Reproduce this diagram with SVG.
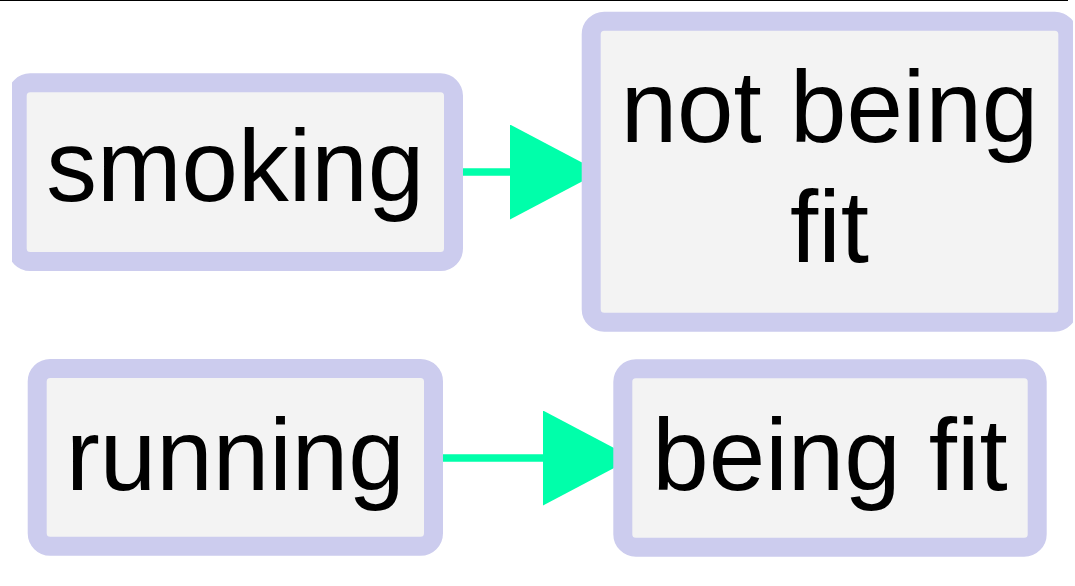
<svg xmlns="http://www.w3.org/2000/svg" width="1075" height="586" viewBox="0 0 1075 586">
<style>
.node rect{fill:#f3f3f3;stroke:#ccccee;stroke-width:19}
.node text{font-family:"Liberation Sans",Arial,sans-serif;font-size:101.5px;fill:#000;text-anchor:middle}
.edge{stroke:#00ffaa;stroke-width:7.5;fill:none}
</style>
<defs>
<marker id="arrow" markerUnits="userSpaceOnUse" markerWidth="90" markerHeight="95" refX="90" refY="47.5" orient="auto" viewBox="0 0 90 95">
<path d="M0,0 L90,47.5 L0,95 Z" fill="#00ffaa"/>
</marker>
<clipPath id="view"><rect x="12" y="0" width="1061" height="586"/></clipPath>
</defs>
<rect x="0" y="0" width="1075" height="586" fill="#fff"/>
<line x1="0" y1="0.5" x2="1068" y2="0.5" stroke="#000" stroke-width="1"/>
<g clip-path="url(#view)">
<g id="connectors">
<line class="edge" x1="462.7" y1="172" x2="600" y2="172" marker-end="url(#arrow)"/>
<line class="edge" x1="442.7" y1="458" x2="633" y2="458" marker-end="url(#arrow)"/>
</g>
<g id="node-smoking" class="node">
<rect x="17.2" y="82.8" width="436.3" height="178.7" rx="13"/>
<text x="235.3" y="201">smoking</text>
</g>
<g id="node-not-being-fit" class="node">
<rect x="591.2" y="21.2" width="476.6" height="301" rx="13"/>
<text x="829.5" y="142">not being</text>
<text x="829.5" y="262">fit</text>
</g>
<g id="node-running" class="node">
<rect x="37.2" y="368.5" width="396.3" height="177.8" rx="13"/>
<text x="235.3" y="489.5">running</text>
</g>
<g id="node-being-fit" class="node">
<rect x="622.8" y="368.8" width="414.4" height="178.4" rx="13"/>
<text x="830" y="489.5">being fit</text>
</g>
</g>
</svg>
